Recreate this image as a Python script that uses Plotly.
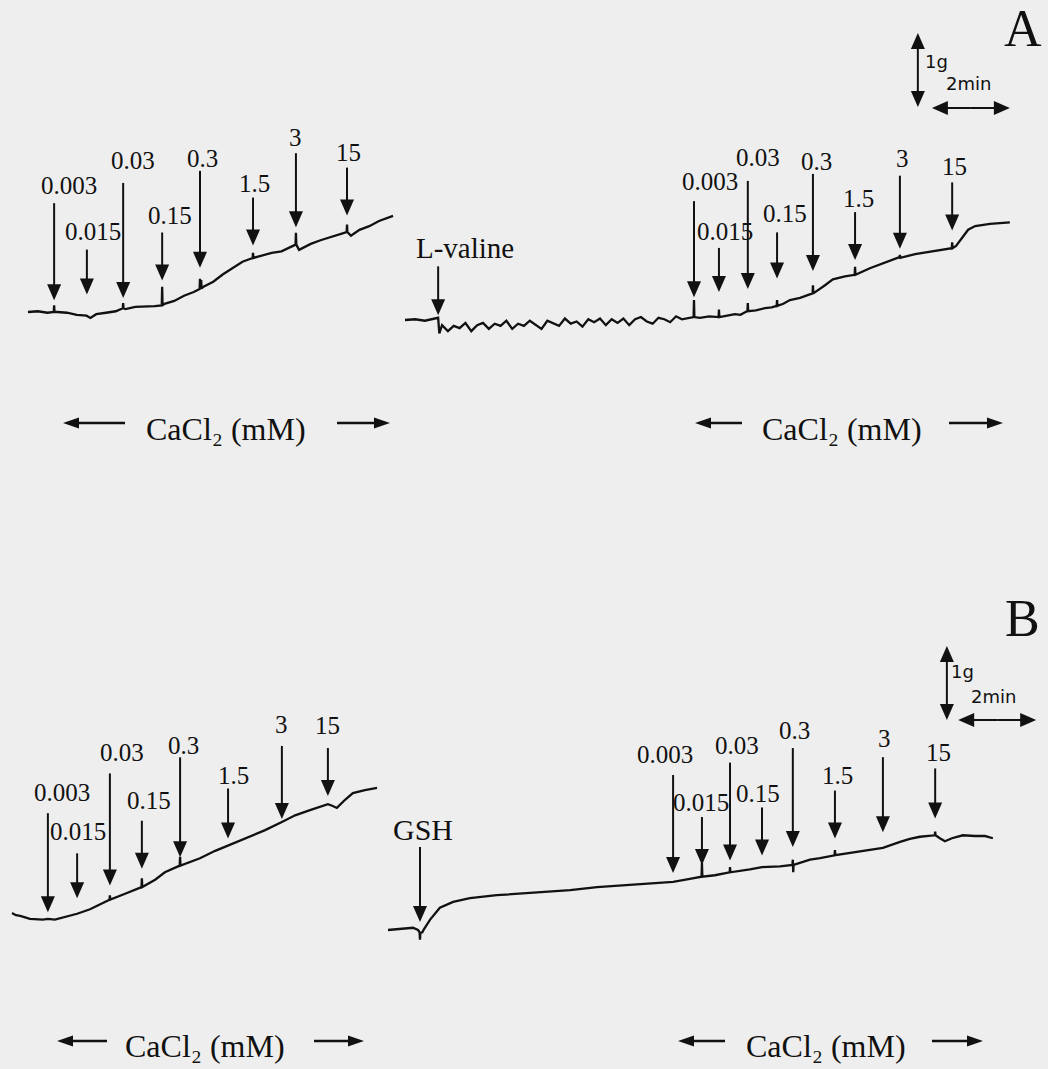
import numpy as np
import plotly.graph_objects as go

# ---------------------------------------------------------------------------
# DATA  (time in min from the start of each recording, tension in g relative
#        to the tension at the start of that recording)
# ---------------------------------------------------------------------------
CONC_LABELS = ["0.003", "0.015", "0.03", "0.15", "0.3", "1.5", "3", "15"]
CACL2_LABEL = "CaCl₂ (mM)"
SCALE_G = 1.0      # vertical calibration bar (g)
SCALE_MIN = 2.0    # horizontal calibration bar (min)

# Panel A - control CaCl2 cumulative curve
a_ctrl_time = [0, 0.25, 0.5, 0.66, 0.67, 0.68, 0.75, 1.0, 1.25, 1.5, 1.6, 1.75, 2.0, 2.25,
               2.43, 2.44, 2.45, 2.5, 2.75, 3.0, 3.25, 3.43, 3.44, 3.45, 3.5, 3.75, 4.0, 4.25,
               4.40, 4.41, 4.42, 4.44, 4.45, 4.5, 4.75, 5.0, 5.25, 5.5, 5.76, 5.77, 5.78,
               6.0, 6.25, 6.5, 6.75, 6.86, 6.87, 6.88, 6.95, 7.25, 7.5, 7.75, 8.0,
               8.17, 8.18, 8.19, 8.28, 8.5, 8.75, 9.0, 9.36]
a_ctrl_tension = [0, 0.01, -0.01, 0, 0.09, 0, 0, -0.01, -0.04, -0.05, -0.08, -0.03, -0.01, 0.01,
                  0.05, 0.12, 0.05, 0.04, 0.07, 0.07, 0.08, 0.09, 0.34, 0.09, 0.11, 0.15, 0.22, 0.27,
                  0.31, 0.45, 0.31, 0.43, 0.32, 0.34, 0.41, 0.51, 0.59, 0.68, 0.73, 0.80, 0.73,
                  0.76, 0.80, 0.82, 0.89, 0.91, 1.07, 0.91, 0.84, 0.92, 0.97, 1.01, 1.05,
                  1.08, 1.18, 1.08, 1.03, 1.11, 1.16, 1.23, 1.30]
a_ctrl_events = [0.67, 1.51, 2.44, 3.44, 4.41, 5.77, 6.87, 8.18]

# Panel A - after L-valine
a_val_time = [0, 0.26, 0.51, 0.72, 0.85, 0.88,
              0.95, 1.10, 1.25, 1.40, 1.55, 1.70, 1.85, 2.00, 2.15, 2.30, 2.45, 2.60, 2.75,
              2.90, 3.05, 3.20, 3.35, 3.50, 3.65, 3.80, 3.95, 4.10, 4.25, 4.40, 4.55, 4.70,
              4.85, 5.00, 5.15, 5.30, 5.45, 5.60, 5.75, 5.90, 6.05, 6.20, 6.35, 6.50, 6.65,
              6.80, 6.95, 7.10, 7.25,
              7.38, 7.40, 7.41, 7.42, 7.56, 7.80, 8.04, 8.05, 8.06, 8.25, 8.46, 8.60, 8.78,
              8.79, 8.80, 9.00, 9.23, 9.40, 9.53, 9.54, 9.55, 9.70, 9.87, 10.13, 10.30, 10.45,
              10.46, 10.47, 10.77, 10.97, 11.28, 11.53, 11.54, 11.55, 11.92, 12.31, 12.68,
              12.69, 12.70, 13.08, 13.46, 13.85, 14.02, 14.03, 14.04, 14.13, 14.28, 14.44,
              14.62, 15.00, 15.51]
a_val_tension = [0, 0.01, -0.01, 0.01, 0.03, -0.18,
                 -0.07, -0.15, -0.08, -0.11, -0.04, -0.15, -0.07, -0.04, -0.12, -0.05, -0.08,
                 -0.01, -0.12, -0.05, -0.08, -0.01, -0.06, -0.12, -0.01, -0.04, -0.08, 0.02,
                 -0.05, -0.02, -0.09, 0.01, -0.03, 0.02, -0.07, 0.01, -0.04, 0.02, -0.07, 0.01,
                 0.04, -0.02, -0.05, 0.03, 0.01, -0.03, 0.05, 0.01, 0.03,
                 0.04, 0.04, 0.27, 0.04, 0.03, 0.05, 0.04, 0.14, 0.04, 0.06, 0.08, 0.07, 0.12,
                 0.23, 0.12, 0.13, 0.16, 0.17, 0.19, 0.27, 0.19, 0.22, 0.27, 0.30, 0.33, 0.36,
                 0.47, 0.36, 0.47, 0.55, 0.59, 0.61, 0.72, 0.61, 0.70, 0.78, 0.85,
                 0.88, 0.84, 0.89, 0.92, 0.96, 0.97, 1.05, 0.97, 1.00, 1.11, 1.22,
                 1.27, 1.30, 1.32]
a_val_drug = ("L-valine", 0.85)
a_val_events = [7.41, 8.05, 8.79, 9.54, 10.46, 11.54, 12.69, 14.03]

# Panel B - control CaCl2 cumulative curve
b_ctrl_time = [0, 0.10, 0.21, 0.46, 0.79, 0.92, 1.10, 1.41, 1.67, 2.00, 2.26,
               2.50, 2.51, 2.52, 2.90, 3.32, 3.33, 3.34, 3.67, 3.92, 4.30, 4.31, 4.32,
               4.82, 5.21, 5.59, 6.10, 6.49, 6.92, 7.26, 7.64, 7.90, 8.10, 8.21, 8.33,
               8.54, 8.74, 9.05, 9.36]
b_ctrl_tension = [0, -0.03, -0.04, -0.08, -0.09, -0.08, -0.09, -0.05, -0.01, 0.05, 0.12,
                  0.18, 0.24, 0.18, 0.26, 0.35, 0.47, 0.35, 0.45, 0.55, 0.64, 0.76, 0.64,
                  0.74, 0.84, 0.92, 1.03, 1.12, 1.23, 1.32, 1.39, 1.43, 1.47, 1.45, 1.42,
                  1.53, 1.62, 1.66, 1.69]
b_ctrl_events = [0.92, 1.67, 2.51, 3.33, 4.31, 5.54, 6.92, 8.10]

# Panel B - after GSH
b_gsh_time = [0, 0.31, 0.64, 0.77, 0.81, 0.82, 0.83, 0.88, 0.92, 1.08, 1.33, 1.67,
              2.10, 2.79, 3.38, 4.08, 4.67, 5.36, 6.21, 6.97, 7.31, 7.74,
              8.04, 8.05, 8.06, 8.38, 8.76, 8.77, 8.78, 9.28, 9.59, 10.05,
              10.37, 10.38, 10.39, 10.40, 10.82, 11.08, 11.45, 11.46, 11.47,
              11.85, 12.23, 12.69, 13.13, 13.38, 13.64, 14.02, 14.03, 14.04,
              14.15, 14.28, 14.46, 14.74, 15.05, 15.31, 15.51]
b_gsh_tension = [0, 0.01, 0.03, 0, -0.03, -0.13, -0.04, -0.03, 0.01, 0.14, 0.30, 0.38,
                 0.43, 0.47, 0.49, 0.51, 0.54, 0.58, 0.61, 0.64, 0.65, 0.69,
                 0.72, 0.91, 0.72, 0.74, 0.78, 0.85, 0.78, 0.82, 0.85, 0.86,
                 0.88, 0.95, 0.78, 0.88, 0.95, 0.97, 1.01, 1.08, 1.01,
                 1.04, 1.07, 1.11, 1.19, 1.23, 1.26, 1.28, 1.33, 1.28,
                 1.24, 1.20, 1.24, 1.28, 1.27, 1.27, 1.24]
b_gsh_drug = ("GSH", 0.82)
b_gsh_events = [7.31, 8.05, 8.77, 9.59, 10.38, 11.46, 12.69, 14.03]

# ---------------------------------------------------------------------------
# STYLE / LAYOUT (pixels)
# ---------------------------------------------------------------------------
W, H = 1048, 1069
PX_PER_MIN = 39.0
PX_PER_G = 74.0
INK = "#111111"
BG = "#eeeeee"
SERIF = "Liberation Serif, Times New Roman, serif"
SANS = "DejaVu Sans, Verdana, sans-serif"
NUM_SIZE = 25
HEAD_W, HEAD_L = 14, 16

# recording origin on the page (px)
ORIGINS = [(28, 312), (405, 320), (12, 913), (388, 930)]

# arrow styling per recording: gap above trace, arrow length, label dx, label dy
A_CTRL_STYLE = dict(gap=[12, 21, 11, 25, 22, 13, 18, 17], length=[97, 45, 115, 48, 97, 48, 74, 48],
                    dx=[15, 6, 10, 8, 3, 1, 0, 1], dy=[18, 18, 22, 17, 12, 14, 16, 15])
A_VAL_STYLE = dict(gap=[20, 25, 23, 28, 23, 15, 9, 18], length=[96, 44, 108, 46, 97, 48, 73, 48],
                   dx=[16, 6, 10, 8, 4, 3, 3, 2], dy=[20, 16, 23, 19, 12, 14, 17, 16])
B_CTRL_STYLE = dict(gap=[7, 16, 15, 19, 9, 8, 4, 9], length=[99, 45, 112, 48, 100, 50, 73, 48],
                    dx=[14, 1, 12, 7, 3, 5, 0, 0], dy=[21, 22, 21, 20, 12, 13, 21, 22])
B_GSH_STYLE = dict(gap=[9, 12, 12, 12, 18, 17, 16, 17], length=[98, 48, 98, 48, 99, 48, 75, 50],
                   dx=[-8, -1, 7, -4, 2, 3, 2, 3], dy=[21, 15, 17, 14, 18, 15, 19, 16])

fig = go.Figure()
layout_axes = {}
annotations = []
shapes = []

recordings = [
    (a_ctrl_time, a_ctrl_tension, a_ctrl_events, A_CTRL_STYLE, None),
    (a_val_time, a_val_tension, a_val_events, A_VAL_STYLE, (a_val_drug, 3, 49, 27, 18, 29)),
    (b_ctrl_time, b_ctrl_tension, b_ctrl_events, B_CTRL_STYLE, None),
    (b_gsh_time, b_gsh_tension, b_gsh_events, B_GSH_STYLE, (b_gsh_drug, 8, 75, 3, 18, 30)),
]


def arrow_shapes(xref, yref, x, y, direction, start, end, hw=HEAD_W, hl=HEAD_L, lw=2):
    """Arrow anchored at data/paper point (x, y); start/end are pixel offsets along the
    arrow axis (tail at `start`, tip at `end`).  direction: 'down', 'up', 'left', 'right'."""
    base = dict(xref=xref, yref=yref, xsizemode="pixel", ysizemode="pixel",
                xanchor=x, yanchor=y, layer="above")
    sgn = 1 if end > start else -1
    neck = end - sgn * (hl - 2)
    if direction in ("down", "up"):
        line = dict(type="line", x0=0, x1=0, y0=start, y1=neck)
        head = f"M{-hw / 2},{end - sgn * hl} L{hw / 2},{end - sgn * hl} L0,{end} Z"
    else:
        line = dict(type="line", y0=0, y1=0, x0=start, x1=neck)
        head = f"M{end - sgn * hl},{-hw / 2} L{end - sgn * hl},{hw / 2} L{end},0 Z"
    return [dict(base, **line, line=dict(color=INK, width=lw)),
            dict(base, type="path", path=head, fillcolor=INK, line=dict(width=0))]


def label(xref, yref, x, y, text, xshift, yshift, size, family=SERIF):
    return dict(xref=xref, yref=yref, x=x, y=y, text=text, showarrow=False,
                xshift=xshift, yshift=yshift, font=dict(family=family, size=size, color=INK),
                xanchor="center", yanchor="middle")


for i, (t, g, events, st, drug) in enumerate(recordings):
    sfx = "" if i == 0 else str(i + 1)
    xr, yr = "x" + sfx, "y" + sfx
    x0, y0 = ORIGINS[i]
    xa = dict(domain=[0, 1], range=[-x0 / PX_PER_MIN, (W - x0) / PX_PER_MIN],
              visible=False, fixedrange=True)
    ya = dict(domain=[0, 1], range=[(y0 - H) / PX_PER_G, y0 / PX_PER_G],
              visible=False, fixedrange=True)
    if i > 0:
        xa.update(overlaying="x", anchor=yr)
        ya.update(overlaying="y", anchor=xr)
    layout_axes["xaxis" + sfx] = xa
    layout_axes["yaxis" + sfx] = ya

    fig.add_trace(go.Scatter(x=t, y=g, mode="lines", line=dict(color=INK, width=2.3),
                             xaxis=xr, yaxis=yr, hoverinfo="skip", showlegend=False))

    for k, te in enumerate(events):
        lvl = float(np.interp(te - 0.05, t, g))
        gap, ln = st["gap"][k], st["length"][k]
        shapes += arrow_shapes(xr, yr, te, lvl, "down", gap + ln, gap)
        annotations.append(label(xr, yr, te, lvl, CONC_LABELS[k], st["dx"][k],
                                 gap + ln + st["dy"][k], NUM_SIZE))
    if drug is not None:
        (name, td), gap, ln, dx, dy, fs = drug
        lvl = float(np.interp(td - 0.05, t, g))
        shapes += arrow_shapes(xr, yr, td, lvl, "down", gap + ln, gap)
        annotations.append(label(xr, yr, td, lvl, name, dx, gap + ln + dy, fs))

# calibration bars (drawn in the axes of the second recording of each panel)
CAL = [("x2", "y2", 13.15, 2.878, 13.51, 2.865, (13.64, 3.49), (14.44, 3.20)),
       ("x4", "y4", 14.33, 2.838, 14.62, 2.838, (14.72, 3.49), (15.53, 3.16))]
for xr, yr, vx, vy, hx, hy, p1g, p2m in CAL:
    vlen = SCALE_G * PX_PER_G
    hlen = SCALE_MIN * PX_PER_MIN
    shapes += arrow_shapes(xr, yr, vx, vy, "up", vlen / 2, vlen)
    shapes += arrow_shapes(xr, yr, vx, vy, "down", vlen / 2, 0)
    shapes += arrow_shapes(xr, yr, hx, hy, "right", hlen / 2, hlen)
    shapes += arrow_shapes(xr, yr, hx, hy, "left", hlen / 2, 0)
    annotations.append(label(xr, yr, p1g[0], p1g[1], "1g", 0, 0, 18, SANS))
    annotations.append(label(xr, yr, p2m[0], p2m[1], "2min", 0, 0, 18, SANS))

# panel letters
for letter, (px, py) in [("A", (1023, 29)), ("B", (1022, 618))]:
    annotations.append(label("paper", "paper", px / W, 1 - py / H, letter, 0, 0, 52))

# CaCl2 rows: (text x, text y, left tip, left tail, right tail, right tip, arrow y)
CACL_ROWS = [(226, 429, 63, 125, 337, 390, 423),
             (842, 429, 695, 742, 949, 1003, 423),
             (205, 1046, 57, 107, 314, 364, 1041),
             (826, 1046, 678, 725, 932, 983, 1041)]
for tx, ty, ltip, ltail, rtail, rtip, ay in CACL_ROWS:
    annotations.append(label("paper", "paper", tx / W, 1 - ty / H, CACL2_LABEL, 0, 0, 32))
    shapes += arrow_shapes("paper", "paper", ltail / W, 1 - ay / H, "left", 0, ltip - ltail,
                           hw=11, hl=16, lw=2.4)
    shapes += arrow_shapes("paper", "paper", rtail / W, 1 - ay / H, "right", 0, rtip - rtail,
                           hw=11, hl=16, lw=2.4)

fig.update_layout(width=W, height=H, margin=dict(l=0, r=0, t=0, b=0),
                  paper_bgcolor=BG, plot_bgcolor=BG, showlegend=False,
                  annotations=annotations, shapes=shapes, **layout_axes)

fig.write_html("out.html", config={"displayModeBar": False, "staticPlot": True},
               post_script="document.body.style.margin='0';document.body.style.overflow='hidden';")
